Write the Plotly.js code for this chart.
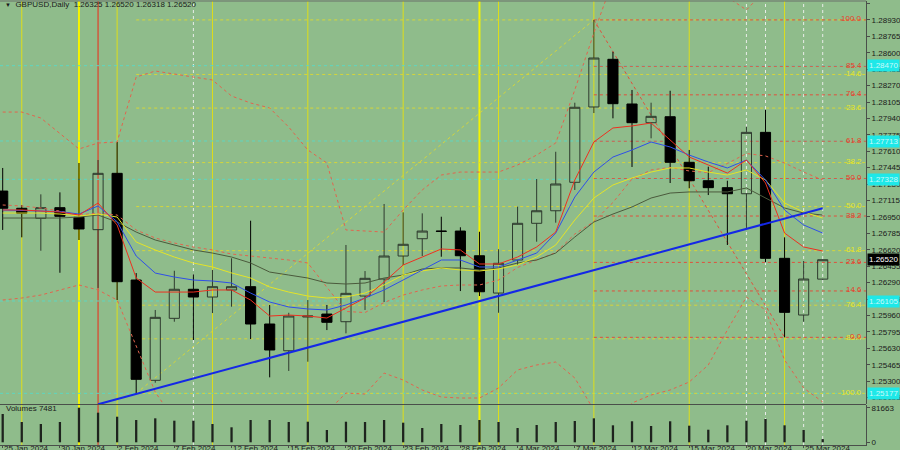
<!DOCTYPE html>
<html><head><meta charset="utf-8">
<script src="https://cdn.plot.ly/plotly-3.0.1.min.js"></script>
<style>html,body{margin:0;padding:0;background:#8fbc8b;}#chart{width:900px;height:450px;}</style>
</head><body><div id="chart"></div>
<script>
// ---- data (GBPUSD daily, 25 Jan 2024 .. 26 Mar 2024) ----
const openP  = [1.27210,1.27037,1.26936,1.27043,1.26946,1.26822,1.27388,1.26316,1.25308,1.25931,1.26223,1.26145,1.26216,1.26249,1.25874,1.25605,1.25944,1.25974,1.25897,1.26155,1.26326,1.26557,1.26731,1.26808,1.26808,1.26560,1.26185,1.26517,1.26886,1.27012,1.27298,1.28055,1.28534,1.28085,1.27897,1.27957,1.27499,1.27314,1.27244,1.27183,1.27800,1.26534,1.25964,1.26325];
const highP  = [1.27442,1.27070,1.27177,1.27197,1.27492,1.27522,1.27703,1.26386,1.26015,1.26409,1.26373,1.26417,1.26534,1.26912,1.26065,1.25987,1.26115,1.26065,1.26668,1.26406,1.27080,1.26996,1.26986,1.26952,1.26846,1.26801,1.26625,1.27053,1.27331,1.27605,1.28098,1.28930,1.28610,1.28226,1.28098,1.28218,1.27623,1.27455,1.27314,1.27857,1.28025,1.26745,1.26507,1.26520];
const lowP   = [1.26819,1.26745,1.26610,1.26389,1.26718,1.26236,1.26115,1.25177,1.25284,1.25897,1.25713,1.25984,1.26048,1.25723,1.25338,1.25402,1.25495,1.25813,1.25780,1.26015,1.26095,1.26467,1.26557,1.26550,1.26205,1.26155,1.25987,1.26467,1.26701,1.26892,1.27221,1.27994,1.27941,1.27452,1.27740,1.27291,1.27238,1.27170,1.26668,1.26836,1.26494,1.25740,1.25897,1.26318];
const closeP = [1.27037,1.26986,1.27043,1.26956,1.26829,1.27388,1.26299,1.25318,1.25941,1.26223,1.26145,1.26249,1.26249,1.25874,1.25613,1.25954,1.25954,1.25891,1.26182,1.26333,1.26557,1.26675,1.26808,1.26805,1.26560,1.26198,1.26484,1.26886,1.27012,1.27281,1.28052,1.28547,1.28088,1.27897,1.27961,1.27499,1.27314,1.27244,1.27183,1.27800,1.26534,1.25991,1.26326,1.26520];
const volumes = [66800,47900,43200,47900,81663,69900,60400,52600,56600,51000,51000,43200,35400,52600,52600,47900,48600,29000,48600,47900,52600,46300,33700,43200,40800,52600,47900,33700,40800,47900,50300,56600,40100,49600,38500,49600,39200,29700,40100,51000,55000,40100,29000,7481];

const maRed    = [1.27020,1.27020,1.27009,1.26999,1.26969,1.27090,1.26869,1.26336,1.26195,1.26195,1.26195,1.26216,1.26216,1.26115,1.25954,1.25964,1.25954,1.25934,1.26035,1.26135,1.26296,1.26467,1.26547,1.26628,1.26618,1.26477,1.26477,1.26547,1.26648,1.26798,1.27321,1.27703,1.27844,1.27864,1.27894,1.27723,1.27552,1.27472,1.27391,1.27522,1.27291,1.26788,1.26648,1.26607];
const maBlue   = [1.27020,1.27015,1.27009,1.27004,1.26979,1.27060,1.26902,1.26557,1.26386,1.26346,1.26316,1.26306,1.26286,1.26185,1.26095,1.26045,1.26025,1.26015,1.26065,1.26135,1.26216,1.26316,1.26417,1.26517,1.26517,1.26447,1.26447,1.26517,1.26587,1.26788,1.27150,1.27401,1.27552,1.27623,1.27703,1.27653,1.27572,1.27502,1.27442,1.27522,1.27321,1.27020,1.26869,1.26788];
const maYellow = [1.26989,1.26989,1.26989,1.26979,1.26959,1.26979,1.26949,1.26698,1.26618,1.26547,1.26487,1.26447,1.26387,1.26336,1.26246,1.26195,1.26155,1.26135,1.26145,1.26185,1.26266,1.26366,1.26407,1.26437,1.26417,1.26407,1.26427,1.26467,1.26547,1.26668,1.26919,1.27140,1.27271,1.27341,1.27401,1.27442,1.27442,1.27401,1.27371,1.27422,1.27321,1.27090,1.26999,1.26939];
const maOlive  = [1.26939,1.26939,1.26939,1.26939,1.26949,1.26969,1.26899,1.26798,1.26718,1.26668,1.26618,1.26587,1.26547,1.26487,1.26396,1.26366,1.26336,1.26286,1.26276,1.26286,1.26336,1.26366,1.26427,1.26437,1.26437,1.26417,1.26437,1.26487,1.26517,1.26587,1.26748,1.26899,1.26979,1.27050,1.27140,1.27190,1.27201,1.27201,1.27201,1.27241,1.27140,1.27040,1.26989,1.26969];
const bbUpper  = [1.28004,1.28004,1.27944,1.27793,1.27633,1.27693,1.27703,1.28356,1.28416,1.28386,1.28356,1.28326,1.28165,1.28095,1.28045,1.27853,1.27623,1.27492,1.26819,1.26809,1.26798,1.27020,1.27221,1.27371,1.27401,1.27401,1.27401,1.27472,1.27572,1.27693,1.28226,1.28798,1.29331,1.29582,1.29683,1.29683,1.29532,1.29331,1.29160,1.29030,1.29231,1.29532,1.29733,1.29834];
const bbMiddle = [1.27070,1.27060,1.27040,1.27009,1.26969,1.26989,1.26969,1.26819,1.26738,1.26688,1.26648,1.26618,1.26577,1.26557,1.26537,1.26517,1.26487,1.26246,1.26000,1.25989,1.26090,1.26165,1.26216,1.26256,1.26266,1.26266,1.26316,1.26442,1.26517,1.26592,1.26778,1.26904,1.27095,1.27331,1.27422,1.27447,1.27412,1.27396,1.27487,1.27587,1.27563,1.27492,1.27401,1.27321];
const bbLower  = [1.26115,1.26135,1.26165,1.26216,1.26266,1.26216,1.26115,1.25653,1.25190,1.24909,1.24708,1.24608,1.24608,1.24658,1.24708,1.24758,1.24859,1.24989,1.25180,1.25170,1.25381,1.25311,1.25211,1.25140,1.25130,1.25130,1.25231,1.25412,1.25462,1.25492,1.25331,1.25009,1.24859,1.25080,1.25160,1.25211,1.25291,1.25462,1.25814,1.26145,1.26015,1.25512,1.25231,1.25090];

const dateTickIdx  = [0,3,6,9,12,15,18,21,24,27,30,33,36,39,42];
const dateTickText = ["25 Jan 2024","30 Jan 2024","2 Feb 2024","7 Feb 2024","12 Feb 2024","15 Feb 2024","20 Feb 2024","23 Feb 2024","28 Feb 2024","4 Mar 2024","7 Mar 2024","12 Mar 2024","15 Mar 2024","20 Mar 2024","25 Mar 2024"];
const priceTicks = [1.29095,1.28930,1.28765,1.28600,1.28435,1.28270,1.28105,1.27940,1.27775,1.27610,1.27445,1.27280,1.27115,1.26950,1.26785,1.26620,1.26455,1.26290,1.26125,1.25960,1.25795,1.25630,1.25465,1.25300,1.25135];

// Fibonacci: red (Mar 8 high -> Mar 22 low), yellow (Feb 5 low -> Mar 8 high)
const redFibLevels    = ["100.0","85.4","76.4","61.8","50.0","38.2","23.6","14.6","0.0"];
const redFibPrices    = [1.28930,1.28464,1.28177,1.27711,1.27335,1.26959,1.26493,1.26206,1.25740];
const yellowFibLevels = ["0.0","14.6","23.6","38.2","50.0","61.8","76.4","85.4","100.0"];
const yellowFibPrices = [1.28930,1.28382,1.28044,1.27496,1.27054,1.26611,1.26063,1.25725,1.25177];
const redFibAnchor    = {x: [31, 41], y: [1.28930, 1.25740]};
const yellowFibAnchor = {x: [7, 31], y: [1.25177, 1.28930]};
const trendLine       = {x: [5, 43], y: [1.25067, 1.27037]};
const hLinePrices     = [1.28470, 1.27713, 1.27328, 1.26105, 1.25177];
const yellowVLines    = [1, 4, 6, 11, 16, 21, 25, 26, 31, 36, 41];
const boldVLines      = [4, 25];
const redVLines       = [5];
const whiteVLines     = [10, 39, 40, 42, 43];
const title = "GBPUSD,Daily  1.26325 1.26520 1.26318 1.26520";
const volLabel = "Volumes 7481";
const lastPrice = 1.26520;

// ---- geometry ----
const BG = '#8fbc8b';
const xIdx = closeP.map((_, i) => i);
const xRange = [-0.1416, 45.27];
const yRange = [1.25070, 1.29120];
const vRange = [-6373, 88036];
const FONT = 'Liberation Sans, Arial, sans-serif';

function lineTrace(y, color, dash, width) {
  return {type:'scatter', mode:'lines', x:xIdx, y:y, xaxis:'x', yaxis:'y',
          line:{color:color, width:width||1, dash:dash||'solid'}, hoverinfo:'skip', showlegend:false};
}

const traces = [
  {type:'candlestick', x:xIdx, open:openP, high:highP, low:lowP, close:closeP, xaxis:'x', yaxis:'y',
   increasing:{line:{color:'#2e3a2e', width:1}, fillcolor:'rgba(0,0,0,0)'},
   decreasing:{line:{color:'#000000', width:1}, fillcolor:'#000000'},
   whiskerwidth:0, hoverinfo:'skip', showlegend:false},
  lineTrace(bbUpper, '#e2644e', 'dot'),
  lineTrace(bbMiddle, '#e2644e', 'dot'),
  lineTrace(bbLower, '#e2644e', 'dot'),
  lineTrace(maOlive, '#4b5a3c'),
  lineTrace(maYellow, '#e4e428'),
  lineTrace(maBlue, '#2f4fe8'),
  lineTrace(maRed, '#ee3020'),
  {type:'bar', x:xIdx, y:volumes, xaxis:'x', yaxis:'y2', width:0.12,
   marker:{color:'#1e231e', line:{width:0}}, hoverinfo:'skip', showlegend:false}
];

const shapes = [];
yellowVLines.forEach(i => shapes.push({type:'line', xref:'x', yref:'paper', x0:i, x1:i, y0:0, y1:1, layer:'below',
  line:{color: boldVLines.includes(i) ? '#f4f400' : '#dede1a', width: boldVLines.includes(i) ? 2 : 1}}));
redVLines.forEach(i => shapes.push({type:'line', xref:'x', yref:'paper', x0:i, x1:i, y0:0, y1:1, layer:'below',
  line:{color:'#f02818', width:1}}));
whiteVLines.forEach(i => shapes.push({type:'line', xref:'x', yref:'paper', x0:i, x1:i, y0:0, y1:1, layer:'below',
  line:{color:'#e8ece8', width:1, dash:'dot'}}));
hLinePrices.forEach(p => shapes.push({type:'line', xref:'paper', yref:'y', x0:0, x1:1, y0:p, y1:p, layer:'below',
  line:{color:'#5ed6c0', width:1, dash:'dot'}}));
yellowFibPrices.forEach(p => shapes.push({type:'line', xref:'x', yref:'y', x0:yellowFibAnchor.x[0], x1:xRange[1], y0:p, y1:p, layer:'below',
  line:{color:'#d6d63a', width:1, dash:'dot'}}));
redFibPrices.forEach(p => shapes.push({type:'line', xref:'x', yref:'y', x0:redFibAnchor.x[0], x1:xRange[1], y0:p, y1:p, layer:'below',
  line:{color:'#e0503c', width:1, dash:'dot'}}));
shapes.push({type:'line', xref:'x', yref:'y', x0:yellowFibAnchor.x[0], x1:yellowFibAnchor.x[1], y0:yellowFibAnchor.y[0], y1:yellowFibAnchor.y[1], layer:'below',
  line:{color:'#d6d63a', width:1, dash:'dot'}});
shapes.push({type:'line', xref:'x', yref:'y', x0:redFibAnchor.x[0], x1:redFibAnchor.x[1], y0:redFibAnchor.y[0], y1:redFibAnchor.y[1], layer:'below',
  line:{color:'#e0503c', width:1, dash:'dot'}});
shapes.push({type:'line', xref:'x', yref:'y', x0:trendLine.x[0], x1:trendLine.x[1], y0:trendLine.y[0], y1:trendLine.y[1], layer:'above',
  line:{color:'#1428e6', width:2}});
// frame lines
shapes.push({type:'line', xref:'paper', yref:'paper', x0:0, x1:1, y0:(445-404.5)/444, y1:(445-404.5)/444, layer:'above', line:{color:'#4a4f4a', width:1}});
shapes.push({type:'line', xref:'paper', yref:'paper', x0:0, x1:1, y0:1, y1:1, layer:'above', line:{color:'#6a6f6a', width:1}});

const annotations = [];
redFibLevels.forEach((t, k) => annotations.push({xref:'paper', yref:'y', x:1, y:redFibPrices[k], xanchor:'right', yanchor:'middle',
  xshift:-2, yshift:1, text:t, showarrow:false, font:{family:FONT, size:8, color:'#e8402c'}}));
yellowFibLevels.forEach((t, k) => { if (k === 0) return; annotations.unshift({xref:'paper', yref:'y', x:1, y:yellowFibPrices[k], xanchor:'right', yanchor:'middle',
  xshift:-2, yshift:1, text:t, showarrow:false, font:{family:FONT, size:8, color:'#e6e62a'}}); });
hLinePrices.forEach(p => annotations.push({xref:'paper', yref:'y', x:1, y:p, xanchor:'left', yanchor:'middle', xshift:1,
  text:p.toFixed(5), showarrow:false, bgcolor:'#1ee8e8', borderpad:1, font:{family:FONT, size:8, color:'#c8fafa'}}));
annotations.push({xref:'paper', yref:'y', x:1, y:lastPrice, xanchor:'left', yanchor:'middle', xshift:1,
  text:lastPrice.toFixed(5), showarrow:false, bgcolor:'#000000', borderpad:1, font:{family:FONT, size:8, color:'#ffffff'}});
annotations.push({xref:'paper', yref:'paper', x:0, y:(445-4.7)/444, xanchor:'left', yanchor:'middle', xshift:3,
  text:'<span style="font-size:6px">▼</span>  ' + title, showarrow:false, font:{family:FONT, size:8, color:'#1a1a1a'}});
annotations.push({xref:'paper', yref:'paper', x:0, y:(445-408)/444, xanchor:'left', yanchor:'middle', xshift:4,
  text:volLabel, showarrow:false, font:{family:FONT, size:8, color:'#1a1a1a'}});
dateTickIdx.forEach((i, k) => annotations.push({xref:'x', yref:'paper', x:i, y:(445-448)/444, xanchor:'left', yanchor:'middle',
  xshift:-1, text:dateTickText[k], showarrow:false, font:{family:FONT, size:8, color:'#1a1a1a'}}));

const layout = {
  width:900, height:450, autosize:false,
  margin:{l:0, r:34, t:1, b:5, pad:0},
  paper_bgcolor:BG, plot_bgcolor:BG,
  showlegend:false, hovermode:false, boxgap:0.24,
  font:{family:FONT, size:8, color:'#1a1a1a'},
  xaxis:{anchor:'y2', range:xRange, showgrid:false, zeroline:false, rangeslider:{visible:false},
         tickmode:'array', tickvals:dateTickIdx, showticklabels:false, ticks:'outside', ticklen:2, tickcolor:'#4a4f4a',
         showline:true, linecolor:'#4a4f4a', linewidth:1, automargin:false},
  yaxis:{domain:[(445-404)/444, 1], range:yRange, side:'right', showgrid:false, zeroline:false,
         tickmode:'array', tickvals:priceTicks, ticktext:priceTicks.map(v => v.toFixed(5)),
         ticks:'outside', ticklen:3, tickcolor:'#4a4f4a', showline:true, linecolor:'#4a4f4a', linewidth:1, automargin:false,
         tickfont:{family:FONT, size:8, color:'#1a1a1a'}},
  yaxis2:{domain:[0, 40/444], range:vRange, side:'right', showgrid:false, zeroline:false,
         tickmode:'array', tickvals:[0, 81663], ticktext:['0','81663'],
         ticks:'outside', ticklen:3, tickcolor:'#4a4f4a', showline:true, linecolor:'#4a4f4a', linewidth:1, automargin:false,
         tickfont:{family:FONT, size:8, color:'#1a1a1a'}},
  shapes:shapes, annotations:annotations
};

Plotly.newPlot('chart', traces, layout, {staticPlot:true, displayModeBar:false});
</script>
</body></html>
